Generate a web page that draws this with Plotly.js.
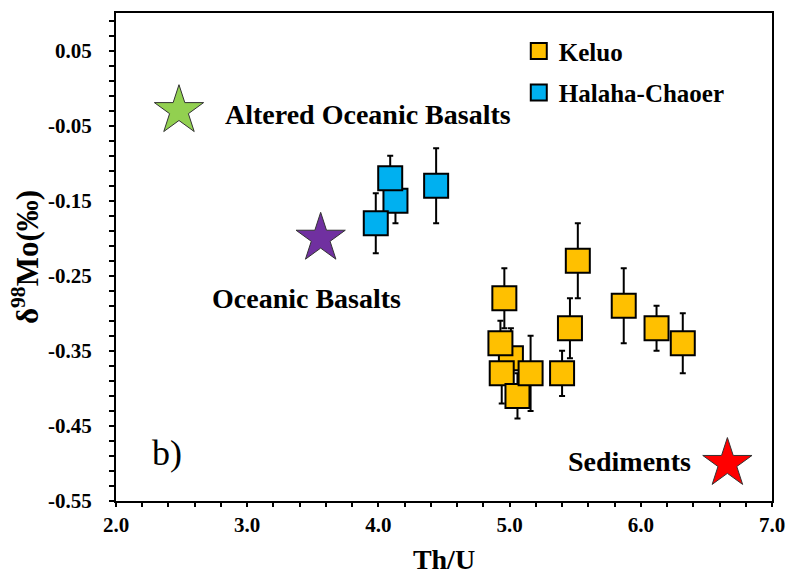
<!DOCTYPE html>
<html>
<head>
<meta charset="utf-8">
<script src="https://cdn.plot.ly/plotly-3.0.1.min.js"></script>
<style>
  html, body { margin: 0; padding: 0; background: #ffffff; }
  #chart { width: 787px; height: 575px; }
</style>
</head>
<body>
<div id="chart"></div>
<script>
// ---- data ----
const keluoThU   = [5.01, 4.94, 4.93, 5.06, 5.16, 4.96, 5.40, 5.46, 5.52, 5.87, 6.12, 6.32];
const keluoMo    = [-0.36, -0.38, -0.34, -0.41, -0.38, -0.28, -0.38, -0.32, -0.23, -0.29, -0.32, -0.34];
const keluoErr   = [0.04, 0.04, 0.03, 0.03, 0.05, 0.04, 0.03, 0.04, 0.05, 0.05, 0.03, 0.04];

const halahaThU  = [4.13, 4.09, 3.98, 4.44];
const halahaMo   = [-0.15, -0.12, -0.18, -0.13];
const halahaErr  = [0.03, 0.03, 0.04, 0.05];

const refNames   = ["Altered Oceanic Basalts", "Oceanic Basalts", "Sediments"];
const refThU     = [2.48, 3.56, 6.66];
const refMo      = [-0.03, -0.20, -0.50];
const refColors  = ["#92d050", "#7030a0", "#ff0000"];

const xTickVals  = [2, 3, 4, 5, 6, 7];
const xTickText  = ["2.0", "3.0", "4.0", "5.0", "6.0", "7.0"];
const yTickVals  = [0.05, -0.05, -0.15, -0.25, -0.35, -0.45, -0.55];
const yTickText  = ["0.05", "-0.05", "-0.15", "-0.25", "-0.35", "-0.45", "-0.55"];

// ---- chart ----
const serif = "Liberation Serif";
const errStyle = { type: "data", visible: true, color: "#000000", thickness: 2, width: 3 };

const traces = [
  {
    type: "scatter", mode: "markers", name: "Keluo", legendgroup: "k",
    x: keluoThU, y: keluoMo,
    error_y: Object.assign({ array: keluoErr }, errStyle),
    marker: { symbol: "square", size: 24, color: "#ffc000", line: { color: "#000000", width: 2 } },
    cliponaxis: false
  },
  {
    type: "scatter", mode: "markers", name: "Halaha-Chaoer", legendgroup: "h",
    x: halahaThU, y: halahaMo,
    error_y: Object.assign({ array: halahaErr }, errStyle),
    marker: { symbol: "square", size: 24, color: "#00b0f0", line: { color: "#000000", width: 2 } },
    cliponaxis: false
  },
  {
    type: "scatter", mode: "markers", name: "reference",
    x: refThU, y: refMo, text: refNames, hoverinfo: "text",
    showlegend: false,
    marker: { symbol: "star", size: 37, color: refColors, line: { color: "#333333", width: 1 } },
    cliponaxis: false
  }
];

const layout = {
  width: 787, height: 575,
  paper_bgcolor: "#ffffff", plot_bgcolor: "#ffffff",
  margin: { l: 116, r: 15, t: 13, b: 74 },
  font: { family: serif, size: 20, color: "#000000" },
  showlegend: true,
  legend: {
    x: 0.614, y: 0.969, xanchor: "left", yanchor: "top",
    bgcolor: "rgba(0,0,0,0)",
    traceorder: "grouped", tracegroupgap: 6,
    font: { family: serif, size: 25, color: "#000000", weight: "bold" },
    itemwidth: 30
  },
  xaxis: {
    range: [2, 7],
    tickmode: "array", tickvals: xTickVals, ticktext: xTickText,
    ticks: "outside", ticklen: 4, tickwidth: 2, tickcolor: "#000000",
    minor: { dtick: 0.2, ticks: "outside", ticklen: 4, tickwidth: 2, tickcolor: "#000000" },
    showline: true, linecolor: "#000000", linewidth: 2, mirror: true,
    showgrid: false, zeroline: false,
    tickfont: { family: serif, size: 21, color: "#000000", weight: "bold" },
    ticklabelstandoff: 0,
    title: { text: "Th/U", font: { family: serif, size: 28, color: "#000000", weight: "bold" }, standoff: 14 }
  },
  yaxis: {
    range: [-0.55, 0.1],
    tickmode: "array", tickvals: yTickVals, ticktext: yTickText,
    ticks: "outside", ticklen: 5, tickwidth: 2, tickcolor: "#000000",
    minor: { tick0: 0.05, dtick: 0.02, ticks: "outside", ticklen: 5, tickwidth: 2, tickcolor: "#000000" },
    showline: true, linecolor: "#000000", linewidth: 2, mirror: true,
    showgrid: false, zeroline: false,
    tickfont: { family: serif, size: 21, color: "#000000", weight: "bold" },
    ticklabelstandoff: 13,
    title: { text: "δ<sup>98</sup>Mo(‰)", font: { family: serif, size: 31, color: "#000000", weight: "bold" }, standoff: 0 }
  },
  annotations: [
    { x: 2.815, y: -0.035, xref: "x", yref: "y", xanchor: "left", yanchor: "middle", showarrow: false,
      text: "<b>Altered Oceanic Basalts</b>", font: { family: serif, size: 28, color: "#000000" } },
    { x: 2.715, y: -0.28, xref: "x", yref: "y", xanchor: "left", yanchor: "middle", showarrow: false,
      text: "<b>Oceanic Basalts</b>", font: { family: serif, size: 28, color: "#000000" } },
    { x: 5.43, y: -0.498, xref: "x", yref: "y", xanchor: "left", yanchor: "middle", showarrow: false,
      text: "<b>Sediments</b>", font: { family: serif, size: 28, color: "#000000" } },
    { x: 2.26, y: -0.486, xref: "x", yref: "y", xanchor: "left", yanchor: "middle", showarrow: false,
      text: "b)", font: { family: serif, size: 36, color: "#000000" } }
  ]
};

Plotly.newPlot("chart", traces, layout, { displayModeBar: false, staticPlot: true });
</script>
</body>
</html>
